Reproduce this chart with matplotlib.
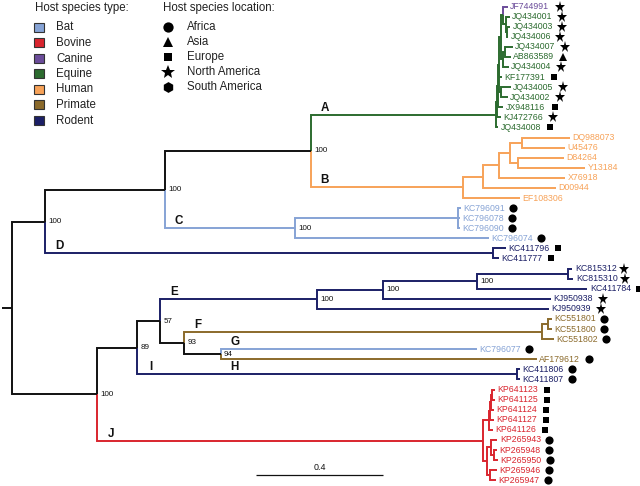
import matplotlib
matplotlib.use("Agg")
import matplotlib.pyplot as plt
from matplotlib.transforms import offset_copy
from matplotlib.patches import Rectangle

plt.rcParams['font.family'] = ['Liberation Sans', 'DejaVu Sans']

# ---------------- data ----------------
host_types = ['Bat', 'Bovine', 'Canine', 'Equine', 'Human', 'Primate', 'Rodent']
type_colors = ['#86a3d5', '#d9252e', '#6b4c9a', '#2c6b2f', '#f7a258', '#8b6a2b', '#1b1f66']

locations = ['Africa', 'Asia', 'Europe', 'North America', 'South America']
loc_markers = ['o', '^', 's', '*', 'h']

host_members = {
    'Bat': ['KC796091', 'KC796078', 'KC796090', 'KC796074', 'KC796077'],
    'Bovine': ['KP641123', 'KP641125', 'KP641124', 'KP641127', 'KP641126',
               'KP265943', 'KP265948', 'KP265950', 'KP265946', 'KP265947'],
    'Canine': ['JF744991'],
    'Equine': ['JQ434001', 'JQ434003', 'JQ434006', 'JQ434007', 'AB863589', 'JQ434004',
               'KF177391', 'JQ434005', 'JQ434002', 'JX948116', 'KJ472766', 'JQ434008'],
    'Human': ['DQ988073', 'U45476', 'D84264', 'Y13184', 'X76918', 'D00944', 'EF108306'],
    'Primate': ['KC551801', 'KC551800', 'KC551802', 'AF179612'],
    'Rodent': ['KC411796', 'KC411777', 'KC815312', 'KC815310', 'KC411784',
               'KJ950938', 'KJ950939', 'KC411806', 'KC411807'],
}

loc_members = {
    'Africa': ['KC796091', 'KC796078', 'KC796090', 'KC796074', 'KC551801', 'KC551800',
               'KC551802', 'KC796077', 'AF179612', 'KC411806', 'KC411807',
               'KP265943', 'KP265948', 'KP265950', 'KP265946', 'KP265947'],
    'Asia': ['AB863589'],
    'Europe': ['KF177391', 'JX948116', 'JQ434008', 'KC411796', 'KC411777', 'KC411784',
               'KP641123', 'KP641125', 'KP641124', 'KP641127', 'KP641126'],
    'North America': ['JF744991', 'JQ434001', 'JQ434003', 'JQ434006', 'JQ434007',
                      'JQ434004', 'JQ434005', 'JQ434002', 'KJ472766',
                      'KC815312', 'KC815310', 'KJ950938', 'KJ950939'],
    'South America': [],
}

# clade letter -> host type colouring the clade
clade_type = {'A': 'Equine', 'B': 'Human', 'C': 'Bat', 'D': 'Rodent', 'E': 'Rodent',
              'F': 'Primate', 'I': 'Rodent', 'J': 'Bovine'}

# Newick pieces (branch lengths in substitutions/site, internal labels = bootstrap, #X = clade letter)
nwk_A = ("((((((JF744991:0.016,(JQ434001:0.013,(JQ434003:0.009,JQ434006:0.003):0.006):0.009):0.006,"
         "((JQ434007:0.025,AB863589:0.019):0.006,JQ434004:0.019):0.006):0.006,"
         "KF177391:0.009,(JQ434005:0.031,JQ434002:0.022):0.006):0.003,"
         "JX948116:0.016):0.003,KJ472766:0.013):0.003,JQ434008:0.006)#A:0.582")
nwk_B = ("(((((DQ988073:0.151,U45476:0.135):0.038,(D84264:0.145,Y13184:0.211):0.025):0.035,"
         "X76918:0.208):0.050,D00944:0.230):0.063,EF108306:0.179)#B:0.478")
nwk_C = "((KC796091:0.009,KC796078:0.006,KC796090:0.006):0.513,KC796074:0.610)100#C:0.409"
nwk_D = "(KC411796:0.041,KC411777:0.019)#D:1.409"
nwk_E = ("((((KC815312:0.013,KC815310:0.016):0.286,KC411784:0.346)100:0.296,"
         "KJ950938:0.528)100:0.208,KJ950939:0.730)100#E:0.494")
nwk_F = "((KC551801:0.013,KC551800:0.013):0.019,KC551802:0.038)#F:1.126"
nwk_GH = "(KC796077#G:0.805,AF179612#H:0.994)94:0.116"
nwk_I = "(KC411806:0.009,KC411807:0.009)#I:1.195"
nwk_J = ("(((((KP641123:0.009,KP641125:0.009):0.003,KP641124:0.009):0.003,KP641127:0.013):0.003,"
         "KP641126:0.013):0.019,((KP265943:0.019,(KP265948:0.009,KP265950:0.013):0.009):0.013,"
         "(KP265946:0.022,KP265947:0.019):0.009):0.013)#J:1.214")

nwk_upper = "(((" + nwk_A + "," + nwk_B + ")100:0.459," + nwk_C + ")100:0.377," + nwk_D + ")100:0.104"
nwk_lower = ("(((" + nwk_E + ",(" + nwk_F + "," + nwk_GH + ")93:0.075)57:0.072,"
             + nwk_I + ")89:0.126," + nwk_J + ")100:0.267")
newick = "(" + nwk_upper + "," + nwk_lower + ");"

root_stub = 0.031
scale_len = 0.4


# ---------------- parse & layout ----------------
def parse_newick(s):
    pos = [0]

    def node():
        n = {'children': []}
        if s[pos[0]] == '(':
            pos[0] += 1
            while True:
                n['children'].append(node())
                if s[pos[0]] == ',':
                    pos[0] += 1
                    continue
                break
            pos[0] += 1  # ')'
        j = pos[0]
        while s[pos[0]] not in ':,);':
            pos[0] += 1
        label = s[j:pos[0]]
        length = 0.0
        if s[pos[0]] == ':':
            pos[0] += 1
            j = pos[0]
            while s[pos[0]] not in ',);':
                pos[0] += 1
            length = float(s[j:pos[0]])
        name, _, letter = label.partition('#')
        n.update(name=name, letter=letter, length=length)
        return n
    return node()


tcol = dict(zip(host_types, type_colors))
host_of = {t: h for h, lst in host_members.items() for t in lst}
loc_of = {t: l for l, lst in loc_members.items() for t in lst}
mark_of = dict(zip(locations, loc_markers))

tree = parse_newick(newick)
counter = [0]
nodes = []


def layout(n, px, py_color):
    n['px'] = px
    n['x'] = px + n['length']
    color = py_color
    if n['letter'] in clade_type:
        color = tcol[clade_type[n['letter']]]
    if not n['children']:
        color = tcol[host_of[n['name']]]
        n['y'] = counter[0]
        counter[0] += 1
    else:
        for c in n['children']:
            layout(c, n['x'], color)
        n['y'] = (n['children'][0]['y'] + n['children'][-1]['y']) / 2.0
    n['color'] = color
    nodes.append(n)


layout(tree, 0.0, '#111111')
tree['parent'] = None


def set_parent(n):
    for c in n['children']:
        c['parent'] = n
        set_parent(c)


set_parent(tree)

# ---------------- draw ----------------
fig = plt.figure(figsize=(6.4, 4.86), dpi=100)
ax = fig.add_axes([0, 0, 1, 1])
ax.set_axis_off()
ax.set_xlim(-0.0377, 1.9748)
ax.set_ylim(47.57, -0.645)

LW = 1.4
for n in nodes:
    p = n['parent']
    if p is None:
        continue
    ax.plot([p['x'], p['x'], n['x']], [p['y'], n['y'], n['y']], color=n['color'], lw=LW,
            solid_joinstyle='miter', solid_capstyle='butt', zorder=2)
ax.plot([tree['x'] - root_stub, tree['x']], [tree['y'], tree['y']], color='#111111', lw=LW,
        solid_capstyle='butt')

mk_size = {'o': 5.9, '^': 5.9, 's': 5.0, '*': 8.2, 'h': 5.9}
mtrans = offset_copy(ax.transData, fig=fig, x=52, y=0, units='dots')

for n in nodes:
    if not n['children']:
        ax.annotate(n['name'], (n['x'], n['y']), xytext=(2.5, 0), textcoords='offset pixels',
                    ha='left', va='center', fontsize=6.3, color=n['color'])
        loc = loc_of.get(n['name'])
        if loc:
            ax.plot([n['x']], [n['y']], marker=mark_of[loc], ms=mk_size[mark_of[loc]],
                    color='black', mew=0, ls='none', transform=mtrans)
    elif n['name']:
        ax.annotate(n['name'], (n['x'], n['y']), xytext=(3.5, 0), textcoords='offset pixels',
                    ha='left', va='center', fontsize=5.8, color='#111111')
    if n['letter']:
        dy = -8 if n['letter'] == 'H' else 7
        ax.annotate(n['letter'], (n['px'], n['y']), xytext=(14, dy), textcoords='offset pixels',
                    ha='center', va='center', fontsize=8.4, fontweight='bold', color='#111111')

# scale bar
sb_x0, sb_y = 0.767, 46.48
ax.plot([sb_x0, sb_x0 + scale_len], [sb_y, sb_y], color='#111111', lw=0.9, solid_capstyle='butt')
ax.annotate(f"{scale_len}", (sb_x0 + scale_len / 2, sb_y), xytext=(0, 8), textcoords='offset pixels',
            ha='center', va='center', fontsize=6.4, color='#111111')


# ---------------- legends ----------------
def P(px, py):
    return (px / 640.0, 1 - py / 486.0)


ax.text(*P(35, 8), "Host species type:", transform=ax.transAxes, fontsize=8.3,
        ha='left', va='center', color='#222222')
for k, (h, c) in enumerate(zip(host_types, type_colors)):
    yy = 27.5 + 15.5 * k
    x0, y0 = P(34, yy + 4.5)
    ax.add_patch(Rectangle((x0, y0), 10 / 640, 9 / 486, transform=ax.transAxes,
                           facecolor=c, edgecolor='#333333', lw=0.8))
    ax.text(*P(56, yy), h, transform=ax.transAxes, fontsize=8.3, ha='left', va='center',
            color='#222222')

ax.text(*P(163, 8), "Host species location:", transform=ax.transAxes, fontsize=8.3,
        ha='left', va='center', color='#222222')
leg_ms = {'o': 7.4, '^': 7.2, 's': 6.2, '*': 10.0, 'h': 7.8}
for k, (l, m) in enumerate(zip(locations, loc_markers)):
    yy = 27 + 15 * k
    ax.plot(*P(168, yy), marker=m, ms=leg_ms[m], color='black', mew=0, ls='none',
            transform=ax.transAxes)
    ax.text(*P(187, yy), l, transform=ax.transAxes, fontsize=8.3, ha='left', va='center',
            color='#222222')

fig.savefig("out.png", dpi=100)
